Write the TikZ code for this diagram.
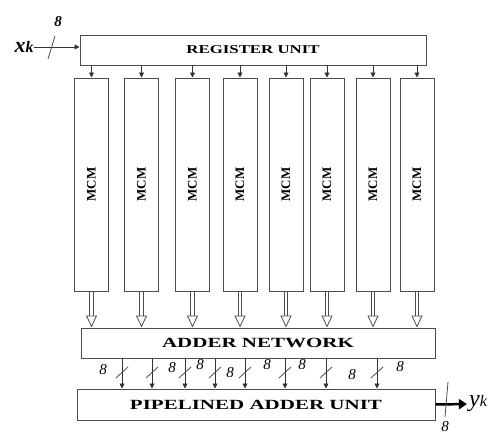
\documentclass[tikz,border=0pt]{standalone}
\usepackage{fontspec}
\setmainfont{Liberation Serif}
\usetikzlibrary{arrows.meta}

\begin{document}
\begin{tikzpicture}[x=1pt, y=-1pt,
  every node/.style={inner sep=0pt},
  unit/.style={draw=black!70, line width=1pt, rectangle, font=\fontsize{14}{14}\selectfont\bfseries},
  mcm/.style={draw=black!70, line width=1pt, rectangle, minimum width=34pt, minimum height=213pt, font=\fontsize{13}{13}\selectfont\bfseries},
  tick/.style={draw=black!70, line width=0.8pt},
  bits/.style={font=\fontsize{15}{15}\selectfont\itshape},
  feed/.style={draw=black!80, line width=0.8pt, -{Triangle[length=5pt, width=5pt]}},
  hollow/.style={draw=black!70, double, double distance=2.5pt, line width=0.8pt, -{Triangle[open, length=12pt, width=11pt]}}]
  \useasboundingbox (0,0) rectangle (493,434);

  % Register unit
  \node[unit, minimum width=346pt, minimum height=30pt, font=\fontsize{12}{12}\selectfont\bfseries] (reg) at (253,50) {\scalebox{1.4}[1]{REGISTER UNIT}};
  \node (xk) at (24,47) {{\fontsize{22}{22}\selectfont\bfseries\itshape x}{\fontsize{16}{16}\selectfont\bfseries\itshape k}};
  \node[bits, font=\fontsize{15}{15}\selectfont\bfseries\itshape] (nin) at (58,22) {8};
  \draw[feed] (xk) -- (xk -| reg.west);
  \draw[tick] (48,59) -- (55,36);

  % MCM blocks
  \node[mcm] (m1) at (91.5,184.5) {\rotatebox{90}{MCM}};
  \node[mcm] (m2) at (141.5,184.5) {\rotatebox{90}{MCM}};
  \node[mcm] (m3) at (192.5,184.5) {\rotatebox{90}{MCM}};
  \node[mcm] (m4) at (240,184.5) {\rotatebox{90}{MCM}};
  \node[mcm] (m5) at (286,184.5) {\rotatebox{90}{MCM}};
  \node[mcm] (m6) at (327,184.5) {\rotatebox{90}{MCM}};
  \node[mcm] (m7) at (373,184.5) {\rotatebox{90}{MCM}};
  \node[mcm] (m8) at (417,184.5) {\rotatebox{90}{MCM}};

  % Adder network and pipelined adder
  \node[unit, minimum width=354pt, minimum height=30pt] (add) at (258,343) {\scalebox{1.5}[1]{ADDER NETWORK}};
  \node[unit, minimum width=358pt, minimum height=31pt] (pipe) at (256,404.5) {\scalebox{1.5}[1]{PIPELINED ADDER UNIT}};

  \foreach \i in {1,...,8} {
    \draw[feed] (reg.south -| m\i.north) -- (m\i.north);
    \draw[hollow] (m\i.south) -- (add.north -| m\i.south);
  }

  % 8-bit links between the two adders
  \foreach \x/\lx/\ly in {122/103/370, 152/172/368, 185/200/365, 215/230/373,
                          245/267/365, 285/302/365, 326/352/375, 377/400/367} {
    \draw[feed] (add.south -| \x,0) -- (pipe.north -| \x,0);
    \draw[tick] (\x-6,378) -- (\x+6,367);
    \node[bits] at (\lx,\ly) {8};
  }

  % Output
  \node (yk) at (478,404) {{\fontsize{24}{24}\selectfont\itshape y}{\fontsize{16}{16}\selectfont\itshape k}};
  \draw[line width=2.5pt, -{Triangle[length=8pt, width=10pt]}, shorten >=2pt] (pipe.east) -- (yk.west);
  \draw[tick] (448,382) -- (445,417);
  \node[bits] (nout) at (445,427) {8};
\end{tikzpicture}
\end{document}
